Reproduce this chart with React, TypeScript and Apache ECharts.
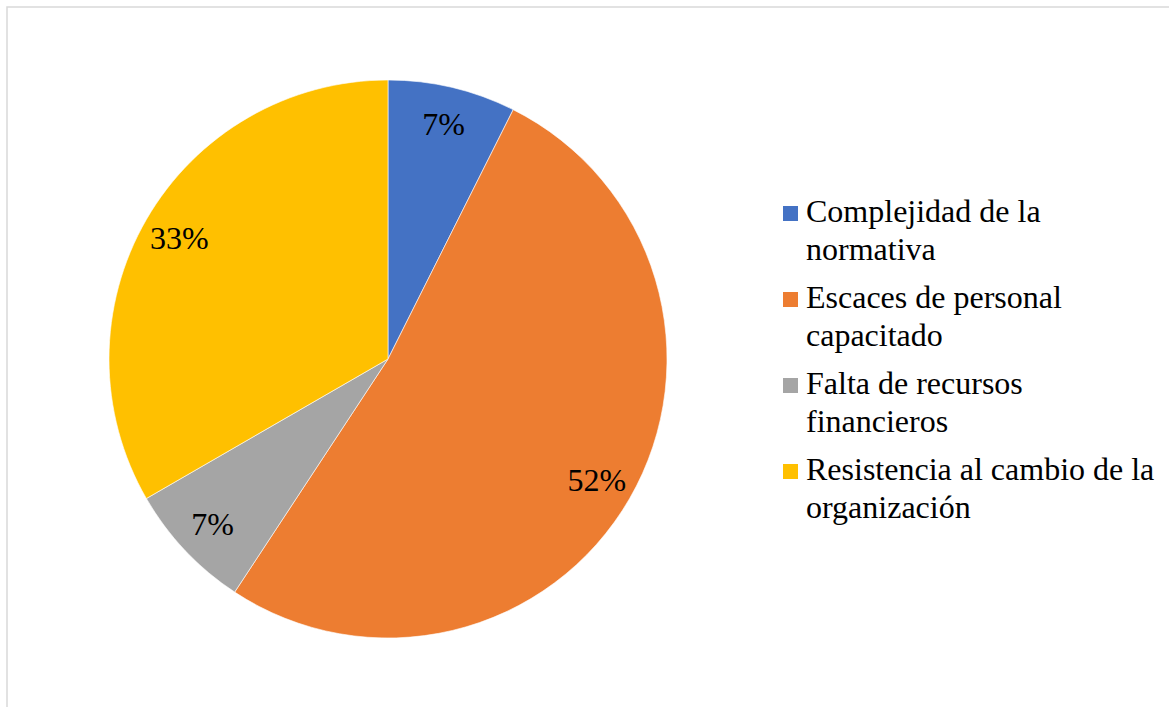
import React, { useEffect, useRef } from "react";
import * as echarts from "echarts";

const categories = [
  "Complejidad de la normativa",
  "Escaces de personal capacitado",
  "Falta de recursos financieros",
  "Resistencia al cambio de la organización",
];
const legendLines = [
  ["Complejidad de la", "normativa"],
  ["Escaces de personal", "capacitado"],
  ["Falta de recursos", "financieros"],
  ["Resistencia al cambio de la", "organización"],
];
const values = [2, 14, 2, 9];
const colors = ["#4472C4", "#ED7D31", "#A5A5A5", "#FFC000"];

const FONT = "Liberation Serif";
const CX = 388;
const CY = 359;
const R = 279;
const LABEL_R = 236;

export default function App() {
  const ref = useRef<HTMLDivElement>(null);
  useEffect(() => {
    if (!ref.current) return;
    const chart = echarts.init(ref.current, null, { renderer: "svg" });
    const total = values.reduce((a, b) => a + b, 0);
    const pctLabels = values.map((v) => Math.round((v / total) * 100) + "%");
    const data = categories.map((name, i) => ({
      name,
      value: values[i],
      itemStyle: { color: colors[i] },
      label: { formatter: pctLabels[i] },
    }));
    const legendGraphics: any[] = [];
    legendLines.forEach((lines, i) => {
      const c = 211 + 86 * i;
      legendGraphics.push({
        type: "rect",
        shape: { x: 783, y: c - 5, width: 15, height: 15 },
        style: { fill: colors[i] },
        silent: true,
      });
      legendGraphics.push({
        type: "text",
        x: 806,
        y: c - 19,
        style: {
          text: lines.join("\n"),
          fontFamily: FONT,
          fontSize: 32,
          lineHeight: 38,
          fill: "#000",
          verticalAlign: "top",
          align: "left",
        },
        silent: true,
      });
    });
    const k = LABEL_R / (R / 2);
    chart.setOption({
      animation: false,
      backgroundColor: "#fff",
      graphic: [
        {
          type: "rect",
          shape: { x: 7, y: 7, width: 1300, height: 900 },
          style: { fill: "none", stroke: "#d9d9d9", lineWidth: 1.5 },
          silent: true,
        },
        ...legendGraphics,
      ],
      series: [
        {
          type: "pie",
          center: [CX, CY],
          radius: [0, R],
          startAngle: 90,
          clockwise: true,
          data,
          itemStyle: { borderColor: "#fff", borderWidth: 0.6 },
          label: {
            show: true,
            position: "inside",
            fontFamily: FONT,
            fontSize: 32,
            color: "#000",
          },
          labelLine: { show: false },
          labelLayout: (params: any) => {
            const lr = params.labelRect;
            const mx = lr.x + lr.width / 2;
            const my = lr.y + lr.height / 2;
            return {
              x: CX + (mx - CX) * k,
              y: CY + (my - CY) * k,
              align: "center",
              verticalAlign: "middle",
            };
          },
          emphasis: { disabled: true },
        },
      ],
    });
    return () => chart.dispose();
  }, []);
  return (
    <div
      ref={ref}
      style={{ position: "fixed", left: 0, top: 0, width: 1169, height: 707 }}
    />
  );
}
